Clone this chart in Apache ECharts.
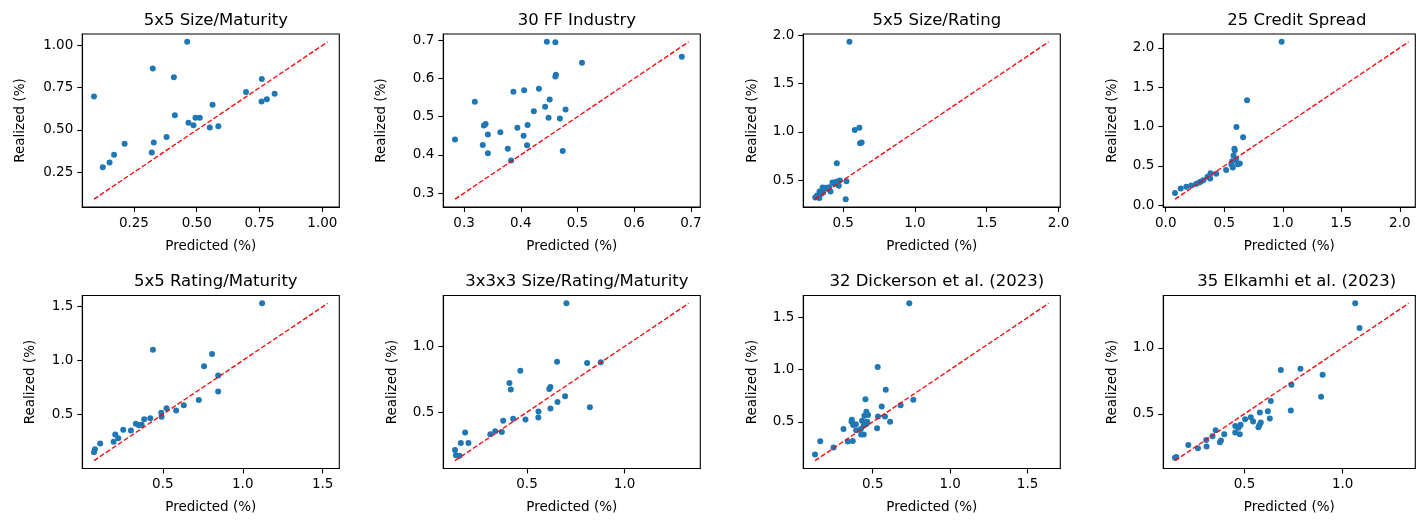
<!DOCTYPE html>
<html><head><meta charset="utf-8">
<script src="https://cdn.jsdelivr.net/npm/echarts@6/dist/echarts.min.js"></script>
<style>html,body{margin:0;padding:0;background:#fff}#c{width:1416px;height:521px}</style>
</head><body><div id="c"></div>
<script>
const titles = ["5x5 Size/Maturity", "30 FF Industry", "5x5 Size/Rating", "25 Credit Spread",
  "5x5 Rating/Maturity", "3x3x3 Size/Rating/Maturity", "32 Dickerson et al. (2023)", "35 Elkamhi et al. (2023)"];

const pred1 = [0.091,0.462,0.325,0.409,0.126,0.153,0.171,0.213,0.321,0.329,0.380,0.413,0.467,0.487,0.495,0.512,0.552,0.563,0.586,0.696,0.759,0.758,0.779,0.810];
const real1 = [0.698,1.021,0.863,0.812,0.279,0.307,0.354,0.418,0.367,0.426,0.458,0.587,0.542,0.528,0.573,0.573,0.514,0.649,0.522,0.724,0.802,0.669,0.681,0.714];

const pred2 = [0.284,0.319,0.333,0.342,0.342,0.335,0.338,0.364,0.377,0.383,0.387,0.394,0.405,0.406,0.411,0.412,0.423,0.432,0.443,0.446,0.449,0.451,0.461,0.462,0.461,0.469,0.474,0.479,0.508,0.684];
const real2 = [0.440,0.539,0.426,0.404,0.453,0.477,0.481,0.459,0.416,0.385,0.565,0.471,0.450,0.569,0.425,0.478,0.514,0.573,0.526,0.696,0.497,0.545,0.695,0.610,0.605,0.495,0.410,0.519,0.641,0.657];

const pred3 = [0.544,0.581,0.613,0.618,0.629,0.456,0.518,0.523,0.477,0.470,0.452,0.426,0.412,0.403,0.380,0.357,0.361,0.336,0.334,0.318,0.306,0.348,0.327,0.392,0.440];
const real3 = [1.931,1.018,1.042,0.881,0.891,0.675,0.304,0.490,0.497,0.442,0.483,0.476,0.383,0.428,0.421,0.424,0.373,0.383,0.315,0.342,0.322,0.359,0.332,0.411,0.462];

const pred4 = [0.990,0.695,0.604,0.661,0.587,0.590,0.579,0.601,0.567,0.562,0.573,0.616,0.633,0.516,0.431,0.383,0.380,0.357,0.321,0.301,0.287,0.261,0.218,0.176,0.128,0.079];
const real4 = [2.075,1.333,0.994,0.864,0.718,0.701,0.634,0.584,0.559,0.517,0.479,0.521,0.530,0.450,0.400,0.408,0.341,0.362,0.320,0.303,0.290,0.274,0.253,0.236,0.215,0.156];

const pred5 = [1.121,0.438,0.808,0.758,0.846,0.846,0.725,0.631,0.583,0.523,0.490,0.492,0.421,0.383,0.367,0.350,0.331,0.300,0.252,0.221,0.202,0.192,0.108,0.075,0.069];
const real5 = [1.531,1.100,1.060,0.946,0.860,0.712,0.632,0.583,0.534,0.555,0.515,0.478,0.463,0.454,0.402,0.398,0.411,0.349,0.355,0.278,0.312,0.245,0.229,0.174,0.146];

const pred6 = [0.702,0.654,0.808,0.878,0.466,0.410,0.417,0.620,0.614,0.695,0.656,0.620,0.822,0.559,0.558,0.492,0.429,0.378,0.371,0.337,0.312,0.183,0.161,0.200,0.131,0.136,0.154];
const real6 = [1.328,0.884,0.874,0.879,0.816,0.722,0.672,0.692,0.677,0.621,0.578,0.528,0.538,0.505,0.460,0.444,0.449,0.434,0.348,0.354,0.331,0.346,0.265,0.265,0.212,0.172,0.169];

const pred7 = [0.736,0.532,0.584,0.453,0.762,0.680,0.558,0.459,0.446,0.470,0.534,0.579,0.612,0.464,0.431,0.365,0.363,0.374,0.391,0.442,0.423,0.393,0.528,0.311,0.425,0.442,0.371,0.339,0.247,0.161,0.127,0.459];
const real7 = [1.636,1.025,0.807,0.715,0.712,0.658,0.646,0.595,0.557,0.566,0.551,0.551,0.500,0.500,0.509,0.519,0.500,0.468,0.475,0.465,0.430,0.418,0.437,0.430,0.377,0.377,0.316,0.310,0.253,0.313,0.187,0.478];

const pred8 = [1.064,1.086,0.685,0.785,0.898,0.739,0.890,0.634,0.736,0.619,0.578,0.629,0.532,0.544,0.503,0.583,0.576,0.571,0.480,0.453,0.469,0.453,0.476,0.397,0.353,0.337,0.305,0.380,0.375,0.307,0.263,0.214,0.153,0.146,0.478];
const real8 = [1.336,1.149,0.831,0.841,0.795,0.720,0.629,0.598,0.525,0.520,0.510,0.465,0.475,0.442,0.460,0.434,0.414,0.399,0.417,0.409,0.394,0.359,0.346,0.346,0.376,0.331,0.303,0.298,0.285,0.253,0.240,0.265,0.174,0.167,0.412];

const ticks1 = [0.25, 0.50, 0.75, 1.00];
const ticks2 = [0.3, 0.4, 0.5, 0.6, 0.7];
const ticks3 = [0.5, 1.0, 1.5, 2.0];
const ticks4 = [0.0, 0.5, 1.0, 1.5, 2.0];
const ticks5 = [0.5, 1.0, 1.5];
const ticks6 = [0.5, 1.0];
const ticks7 = [0.5, 1.0, 1.5];
const ticks8 = [0.5, 1.0];
const tickDigits = [2, 1, 1, 1, 1, 1, 1, 1];

const preds = [pred1, pred2, pred3, pred4, pred5, pred6, pred7, pred8];
const reals = [real1, real2, real3, real4, real5, real6, real7, real8];
const ticks = [ticks1, ticks2, ticks3, ticks4, ticks5, ticks6, ticks7, ticks8];

const FONT = "DejaVu Sans";
const colLeft = [82.3, 443.3, 803.3, 1163.3];
const rowTop = [34, 295.5];
const W = 257, H = 173;
const colWidth = [257, 257, 257, 252];
const yNameGap = [55, 55, 44, 44, 45, 44, 44, 44];

const option = {
  animation: false,
  backgroundColor: '#fff',
  title: [], grid: [], xAxis: [], yAxis: [], series: []
};

for (let i = 0; i < 8; i++) {
  const r = Math.floor(i / 4), c = i % 4;
  const p = preds[i], q = reals[i];
  const all = p.concat(q);
  const lo = Math.min(...all), hi = Math.max(...all);
  const m = 0.05 * (hi - lo);
  const amin = lo - m, amax = hi + m;
  const w = colWidth[c];
  const xmax = amin + (amax - amin) * w / W;
  const d = tickDigits[i];
  option.grid.push({
    left: colLeft[c], top: rowTop[r], width: w, height: H,
    show: true, borderColor: '#000', borderWidth: 1.1, backgroundColor: 'transparent'
  });
  option.title.push({
    text: titles[i], left: colLeft[c] + W / 2, top: rowTop[r] - 27, textAlign: 'center',
    textStyle: { fontFamily: FONT, fontSize: 16.5, fontWeight: 'normal', color: '#000' }
  });
  const axCommon = (vals) => ({
    type: 'value', gridIndex: i,
    axisLine: { show: true, onZero: false, lineStyle: { color: '#000', width: 1.1 } },
    axisTick: { show: true, inside: false, length: 5, customValues: vals, lineStyle: { color: '#000', width: 1.1 } },
    axisLabel: { show: true, margin: 9, customValues: vals, color: '#000', fontFamily: FONT, fontSize: 13.5,
      formatter: (v) => Number(v).toFixed(d) },
    splitLine: { show: false },
    nameTextStyle: { fontFamily: FONT, fontSize: 13.5, color: '#000' }
  });
  option.xAxis.push(Object.assign(axCommon(ticks[i]), {
    min: amin, max: xmax, name: 'Predicted (%)', nameLocation: 'middle', nameGap: 32
  }));
  option.yAxis.push(Object.assign(axCommon(ticks[i]), {
    min: amin, max: amax, name: 'Realized (%)', nameLocation: 'middle', nameGap: yNameGap[i], nameRotate: 90
  }));
  option.series.push({
    type: 'scatter', xAxisIndex: i, yAxisIndex: i, symbolSize: 6,
    itemStyle: { color: '#1f77b4', opacity: 1 }, silent: true,
    data: p.map((v, k) => [v, q[k]])
  });
  option.series.push({
    type: 'line', xAxisIndex: i, yAxisIndex: i, symbol: 'none', silent: true,
    lineStyle: { color: '#ff0000', width: 1.3, type: [5, 2.2] },
    data: [[lo, lo], [hi, hi]]
  });
}

const chart = echarts.init(document.getElementById('c'), null, { renderer: 'canvas' });
chart.setOption(option);
</script></body></html>
